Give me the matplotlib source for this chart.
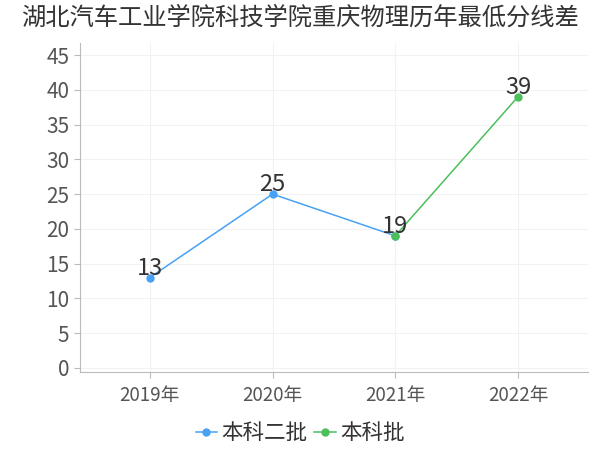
import matplotlib
matplotlib.use("Agg")
import matplotlib.pyplot as plt

plt.rcParams['font.family'] = ['Noto Sans CJK SC', 'DejaVu Sans']

# 数据
years = ["2019年", "2020年", "2021年", "2022年"]
erpi_idx = [0, 1, 2]
erpi = [13, 25, 19]
benke_idx = [2, 3]
benke = [19, 39]
title = "湖北汽车工业学院科技学院重庆物理历年最低分线差"

blue = "#47a2f5"
green = "#4cbf5b"

fig = plt.figure(figsize=(6, 4.5), dpi=100)
ax = fig.add_axes([0.133, 0.173, 0.847, 0.731])

ax.plot(erpi_idx, erpi, color=blue, lw=1.1, marker='o', ms=5, label="本科二批")
ax.plot(benke_idx, benke, color=green, lw=1.1, marker='o', ms=5, label="本科批")

# 数据标签
for i, v in zip(erpi_idx[:2], erpi[:2]):
    ax.text(i, v - 0.3, str(v), ha='center', va='bottom', fontsize=17, color='#333333')
for i, v in zip(benke_idx, benke):
    ax.text(i, v - 0.3, str(v), ha='center', va='bottom', fontsize=17, color='#333333')

ax.set_xlim(-0.57, 3.57)
ax.set_ylim(-0.6, 46.7)
ax.set_xticks(range(len(years)))
ax.set_xticklabels(years)
ax.set_yticks(range(0, 46, 5))

ax.grid(True, color='#f2f2f2', lw=0.8)
ax.set_axisbelow(True)
for s in ['top', 'right']:
    ax.spines[s].set_visible(False)
for s in ['left', 'bottom']:
    ax.spines[s].set_color('#bbbbbb')
ax.tick_params(axis='y', labelsize=15, colors='#bbbbbb', labelcolor='#555555', length=4)
ax.tick_params(axis='x', labelsize=13.5, colors='#bbbbbb', labelcolor='#555555', length=4, pad=5)

fig.suptitle(title, fontsize=17.5, color='#333333', y=0.99)

fig.legend(loc='lower center', bbox_to_anchor=(0.5, -0.03), ncol=2, frameon=False,
           fontsize=15.5, handlelength=1.0, handletextpad=0.2, columnspacing=0.3,
           labelcolor='#333333')

fig.savefig("out.png", dpi=100)
